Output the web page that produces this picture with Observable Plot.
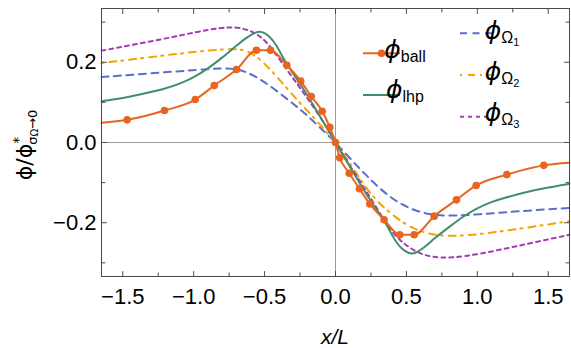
<!DOCTYPE html>
<html><head><meta charset="utf-8">
<script src="https://cdn.jsdelivr.net/npm/d3@7"></script>
<script src="https://cdn.jsdelivr.net/npm/@observablehq/plot@0.6"></script>
<style>body{margin:0;background:#fff}#c{position:relative;width:571px;height:348px}</style>
</head><body><div id="c"></div>
<script>
// tick values
const xMajor = [-1.5, -1, -0.5, 0, 0.5, 1, 1.5];
const xMinor = [-1.25, -0.75, -0.25, 0.25, 0.75, 1.25];
const yMajor = [-0.2, 0, 0.2];
const yMinor = [-0.3, -0.1, 0.1, 0.3];

// phi_ball: markers and the line through them (line reaches the frame edges)
const ballDots = [[-1.469,0.0565],[-1.206,0.0797],[-0.989,0.107],[-0.855,0.142],[-0.698,0.182],[-0.557,0.230],[-0.458,0.230],[-0.343,0.1925],[-0.245,0.153],[-0.171,0.1146],[-0.094,0.078],[-0.040,0.038],[0,0],
  [0.030,-0.038],[0.097,-0.0765],[0.169,-0.115],[0.242,-0.153],[0.343,-0.1925],[0.453,-0.230],[0.555,-0.230],[0.696,-0.1836],[0.853,-0.143],[0.992,-0.107],[1.208,-0.080],[1.469,-0.057]];
const ballEnds = [[-1.65,0.049],[1.65,-0.0506]];

// phi_lhp
const lhp = [[-1.65,0.103],[-1.5,0.110],[-1.35,0.122],[-1.2,0.134],[-1.1,0.146],[-1.0,0.162],[-0.9,0.184],[-0.8,0.211],[-0.7,0.241],[-0.623,0.263],[-0.56,0.276],[-0.52,0.277],[-0.47,0.267],[-0.42,0.245],[-0.38,0.218],[-0.34,0.193],[-0.247,0.146],[-0.12,0.072],[0,0],
  [0.12,-0.072],[0.247,-0.146],[0.34,-0.193],[0.38,-0.218],[0.42,-0.245],[0.47,-0.267],[0.52,-0.277],[0.56,-0.277],[0.623,-0.263],[0.7,-0.238],[0.8,-0.211],[0.9,-0.184],[1.0,-0.163],[1.1,-0.148],[1.2,-0.137],[1.35,-0.123],[1.5,-0.112],[1.65,-0.103]];

// phi_Omega1
const om1 = [[-1.65,0.163],[-1.21,0.175],[-0.975,0.181],[-0.81,0.185],[-0.69,0.1845],[-0.576,0.168],[-0.435,0.135],[-0.294,0.095],[-0.21,0.0715],[-0.082,0.028],[0,0],
  [0.106,-0.041],[0.2,-0.076],[0.317,-0.117],[0.435,-0.149],[0.552,-0.169],[0.67,-0.18],[0.788,-0.1836],[1.02,-0.179],[1.257,-0.172],[1.65,-0.163]];

// phi_Omega2
const om2 = [[-1.65,0.198],[-1.21,0.217],[-0.975,0.227],[-0.81,0.232],[-0.69,0.234],[-0.6,0.226],[-0.506,0.2],[-0.388,0.154],[-0.27,0.105],[-0.153,0.063],[0,0],
  [0.1,-0.05],[0.2,-0.107],[0.317,-0.157],[0.482,-0.2025],[0.6,-0.223],[0.74,-0.233],[0.905,-0.233],[1.14,-0.223],[1.375,-0.211],[1.65,-0.196]];

// phi_Omega3
const om3 = [[-1.65,0.229],[-1.21,0.258],[-0.975,0.276],[-0.81,0.286],[-0.717,0.288],[-0.623,0.282],[-0.552,0.27],[-0.482,0.25],[-0.388,0.204],[-0.27,0.146],[-0.153,0.088],[-0.047,0.03],[0,0],
  [0.1,-0.058],[0.27,-0.15],[0.388,-0.222],[0.505,-0.26],[0.623,-0.282],[0.74,-0.288],[0.905,-0.285],[1.14,-0.269],[1.375,-0.251],[1.65,-0.23]];

// legend labels
const legendSubs = ["ball", "lhp", "Ω", "Ω", "Ω"];
const legendSubSubs = ["", "", "1", "2", "3"];

const C = {ball: "#E9651F", lhp: "#3D8F6F", om1: "#5C6ECB", om2: "#F4A300", om3: "#A33DB5"};
const frameColor = "#4a4a4a";

const ballLine = [ballEnds[0], ...ballDots, ballEnds[1]];
const tickShape = {draw(ctx, l) { ctx.moveTo(0, 0); ctx.lineTo(0, -l); }};
function ticks(vals, ch, anchor, rotate, len) {
  return Plot.vector(vals, {[ch]: d => d, frameAnchor: anchor, rotate, length: len, anchor: "start", shape: tickShape, stroke: frameColor, strokeWidth: 1});
}
const P = {x: d => d[0], y: d => d[1], curve: "basis", strokeWidth: 2};

const chart = Plot.plot({
  width: 571, height: 348,
  marginLeft: 101, marginRight: 2, marginTop: 8, marginBottom: 72,
  x: {domain: [-1.65, 1.65]},
  y: {domain: [-0.334, 0.334]},
  style: {fontFamily: "'Liberation Sans', Arial, sans-serif", fontSize: "22px", color: "black", background: "white"},
  marks: [
    Plot.ruleX([0], {stroke: "#9a9a9a", strokeWidth: 1}),
    Plot.ruleY([0], {stroke: "#9a9a9a", strokeWidth: 1}),
    Plot.line(om1, {...P, stroke: C.om1, strokeDasharray: "7,5.5"}),
    Plot.line(om2, {...P, stroke: C.om2, strokeDasharray: "2,6,7,5"}),
    Plot.line(om3, {...P, stroke: C.om3, strokeDasharray: "4,4"}),
    Plot.line(lhp, {...P, stroke: C.lhp}),
    Plot.line(ballLine, {...P, curve: "monotone-x", stroke: C.ball}),
    Plot.dot(ballDots, {x: d => d[0], y: d => d[1], r: 3.8, fill: C.ball}),
    Plot.frame({stroke: frameColor, strokeWidth: 1}),
    Plot.axisX({ticks: xMajor, tickSize: 0, tickPadding: 12, tickFormat: d3.format(".1f"), label: null, fontSize: 22}),
    Plot.axisY({ticks: yMajor, tickSize: 0, tickPadding: 5, tickFormat: d3.format(".1f"), label: null, fontSize: 22}),
    ticks(xMajor, "x", "bottom", 0, 5), ticks(xMinor, "x", "bottom", 0, 3.5),
    ticks(xMajor, "x", "top", 180, 5), ticks(xMinor, "x", "top", 180, 3.5),
    ticks(yMajor, "y", "left", 90, 5), ticks(yMinor, "y", "left", 90, 3.5),
    ticks(yMajor, "y", "right", 270, 5), ticks(yMinor, "y", "right", 270, 3.5)
  ]
});
document.getElementById("c").appendChild(chart);

const svg = d3.select(chart);
// axis titles
svg.append("text").attr("x", 335).attr("y", 344).attr("text-anchor", "middle")
  .attr("font-family", "'Liberation Sans', Arial, sans-serif").attr("font-size", 21).attr("font-style", "italic").attr("fill", "black").text("x/L");
const yl = svg.append("text").attr("transform", "translate(32,145) rotate(-90)").attr("text-anchor", "middle")
  .attr("font-family", "'DejaVu Sans', sans-serif").attr("fill", "black");
yl.append("tspan").attr("font-size", 22).text("ϕ/ϕ");
yl.append("tspan").attr("font-size", 14).attr("dy", -9).text("*");
yl.append("tspan").attr("font-size", 13).attr("dx", -8).attr("dy", 14).text("σ");
yl.append("tspan").attr("font-size", 10).attr("dy", 1).text("Ω");
yl.append("tspan").attr("font-size", 13).attr("dy", -1).text("→0");

// legend
const leg = [
  {x0: 363, x1: 400, y: 53.3, tx: 405, by: 57.5, c: C.ball, dash: null, dot: true},
  {x0: 363, x1: 400, y: 95, tx: 405, by: 98, c: C.lhp, dash: null},
  {x0: 460, x1: 492, y: 33.3, tx: 502, by: 39, c: C.om1, dash: "7,5.5"},
  {x0: 460, x1: 494, y: 75, tx: 502, by: 80, c: C.om2, dash: "2,6,7,5"},
  {x0: 460, x1: 494, y: 116.7, tx: 502, by: 121, c: C.om3, dash: "4,4"}
];
leg.forEach((L, i) => {
  svg.append("line").attr("x1", L.x0).attr("x2", L.x1).attr("y1", L.y).attr("y2", L.y)
    .attr("stroke", L.c).attr("stroke-width", 2).attr("stroke-dasharray", L.dash);
  if (L.dot) svg.append("circle").attr("cx", (L.x0 + L.x1) / 2).attr("cy", L.y).attr("r", 3.8).attr("fill", L.c);
  const t = svg.append("text").attr("x", L.tx).attr("y", L.by).attr("fill", "black");
  t.append("tspan").attr("font-family", "'DejaVu Sans', sans-serif").attr("font-style", "italic").attr("font-size", 25).text("ϕ");
  t.append("tspan").attr("font-family", "'Liberation Sans', Arial, sans-serif").attr("font-size", 16).attr("dy", 4).text(legendSubs[i]);
  if (legendSubSubs[i]) t.append("tspan").attr("font-family", "'Liberation Sans', Arial, sans-serif").attr("font-size", 11).attr("dy", 3).text(legendSubSubs[i]);
});
</script>
</body></html>
